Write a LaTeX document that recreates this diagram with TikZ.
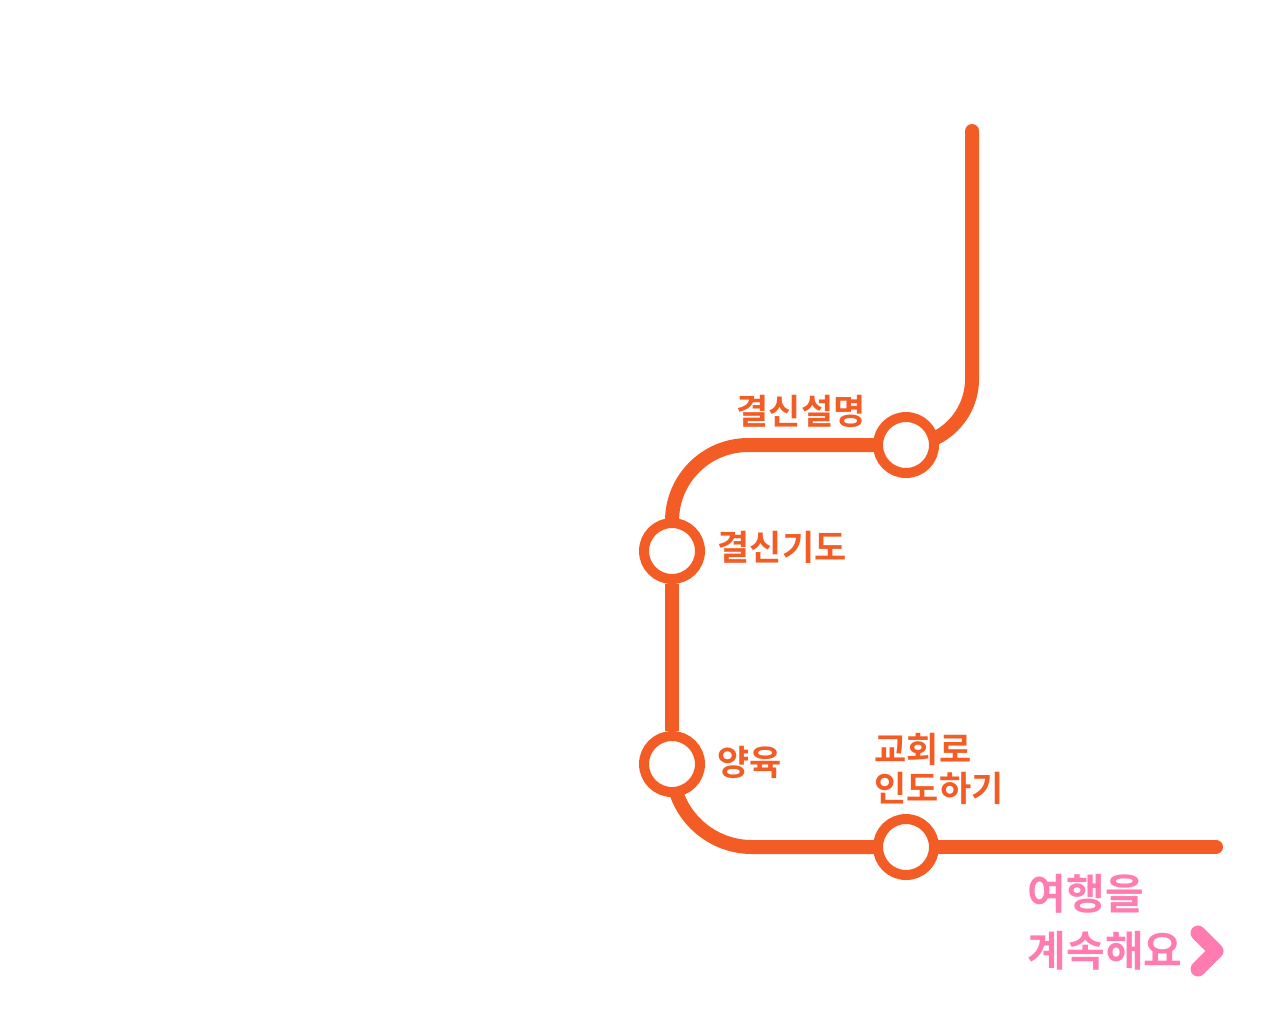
\documentclass[tikz,border=0pt]{standalone}
\usepackage{fontspec}
\setmainfont{Noto Sans CJK KR}[BoldFont={Noto Sans CJK KR Bold}]
\usepackage{tikz}
\usetikzlibrary{backgrounds}
\definecolor{route}{HTML}{F45C26}
\definecolor{link}{HTML}{FF7BB0}
\tikzset{
  stationnode/.style={circle,draw=route,fill=white,line width=1mm,minimum size=5.6mm,inner sep=0pt},
  routeline/.style={draw=route,line width=1.4mm},
  stationlabel/.style={font=\fontsize{9.95pt}{12pt}\selectfont\bfseries,text=route,anchor=west,inner sep=0pt},
  linklabel/.style={font=\fontsize{11.95pt}{14pt}\selectfont\bfseries,text=link,anchor=west,inner sep=0pt},
  chevron/.style={draw=link,line width=1.5mm,line cap=round,line join=round},
}
\begin{document}
\begin{tikzpicture}[x=1cm,y=1cm]
  \useasboundingbox (0,0) rectangle (12.8,-10.24);
  % stations
  \node[stationnode] (explain) at (9.06,-4.45) {};
  \node[stationnode] (prayer) at (6.72,-5.51) {};
  \node[stationnode] (nurture) at (6.72,-7.64) {};
  \node[stationnode] (church) at (9.06,-8.47) {};
  % free ends of the route
  \coordinate (routestart) at (9.72,-1.31);
  \coordinate (routeend) at (12.16,-8.47);
  % route, under the stations
  \begin{scope}[on background layer]
    \draw[routeline,line cap=round,rounded corners=6.6mm] (routestart) |- (explain.center);
    \draw[routeline,rounded corners=7.6mm] (explain.center) -| (prayer.center);
    \draw[routeline] (prayer) -- (nurture);
    \draw[routeline,rounded corners=8mm] (nurture.center) |- (church.center);
    \draw[routeline,line cap=round] (church) -- (routeend);
  \end{scope}
  % labels
  \node[stationlabel] (explainlabel) at (7.36,-4.11) {결신설명};
  \node[stationlabel] (prayerlabel) at (7.17,-5.47) {결신기도};
  \node[stationlabel] (nurturelabel) at (7.17,-7.62) {양육};
  \node[stationlabel] (churchlabelA) at (8.74,-7.49) {교회로};
  \node[stationlabel] (churchlabelB) at (8.74,-7.88) {인도하기};
  % continue link
  \node[linklabel] (linkA) at (10.27,-8.94) {여행을};
  \node[linklabel] (linkB) at (10.27,-9.51) {계속해요};
  \draw[chevron] (11.98,-9.33) -- (12.16,-9.51) -- (11.98,-9.69);
\end{tikzpicture}
\end{document}
